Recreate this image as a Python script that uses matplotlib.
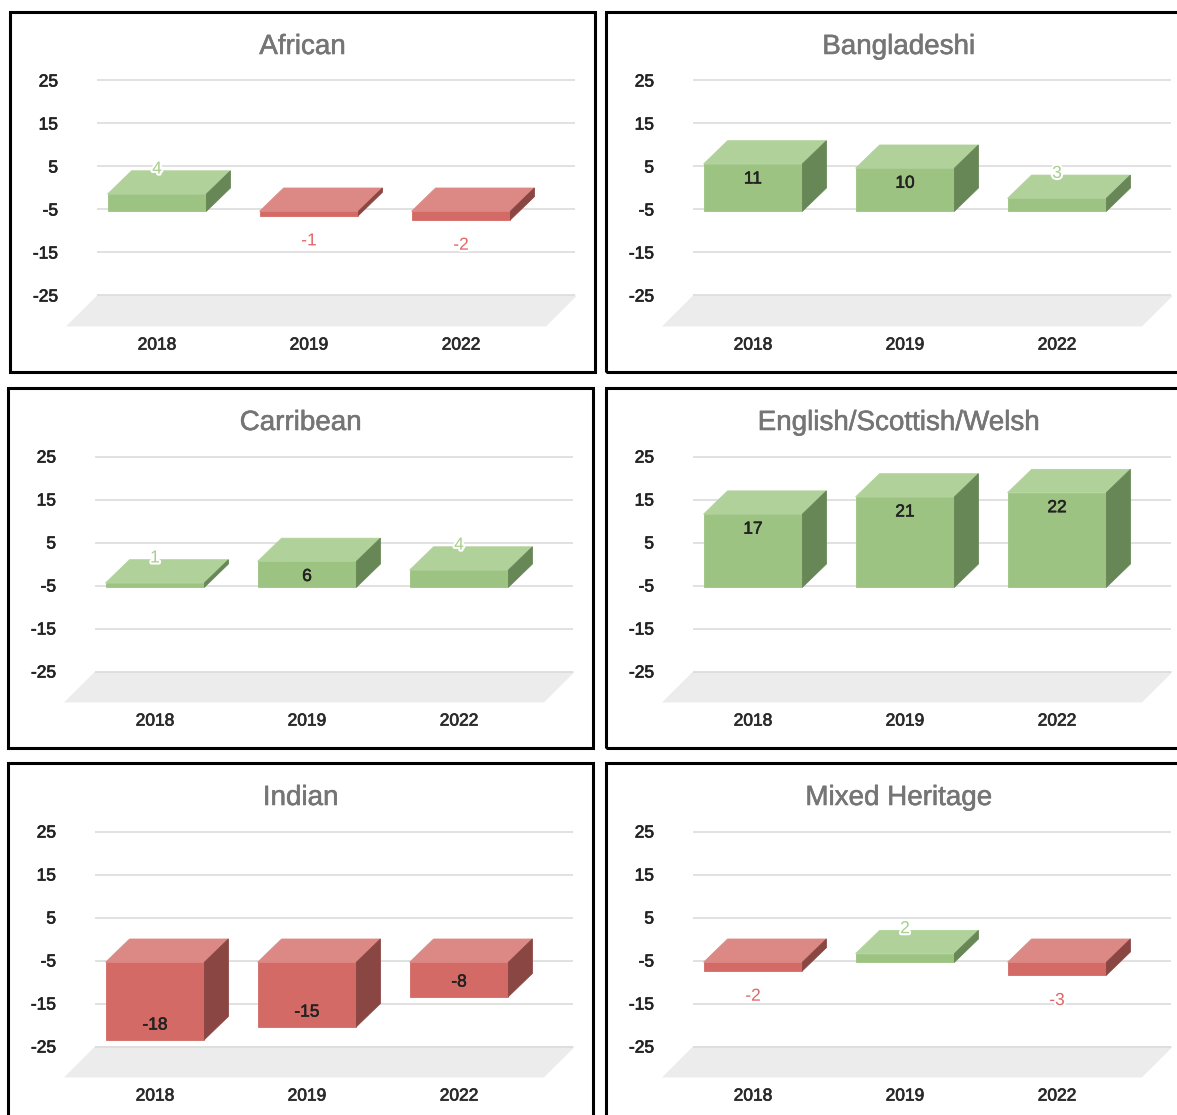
import matplotlib
matplotlib.use("Agg")
import matplotlib.pyplot as plt
from matplotlib.patches import Polygon, Rectangle
import matplotlib.patheffects as pe

plt.rcParams['font.family'] = ['Liberation Sans', 'DejaVu Sans']

# ---- data ----
years = ["2018", "2019", "2022"]
groups = ["African", "Bangladeshi", "Carribean",
          "English/Scottish/Welsh", "Indian", "Mixed Heritage"]
african = [4, -1, -2]
bangladeshi = [11, 10, 3]
carribean = [1, 6, 4]
english_scottish_welsh = [17, 21, 22]
indian = [-18, -15, -8]
mixed_heritage = [-2, 2, -3]
y_ticks = [25, 15, 5, -5, -15, -25]

series = [african, bangladeshi, carribean,
          english_scottish_welsh, indian, mixed_heritage]

# ---- style ----
GREEN = dict(front="#9dc383", top="#b0d29a", side="#688756", label="#a6cf8b")
RED = dict(front="#d36a65", top="#dc8985", side="#8a4642", label="#e06666")
GRID = "#d9d9d9"
FLOOR = "#ececec"
DARK = "#222222"

def heavy(color, w=0.5):
    return [pe.withStroke(linewidth=w, foreground=color)]

W, H = 1177, 1115
fig = plt.figure(figsize=(W / 100, H / 100), dpi=100)

# panel frame origins (left, top) in pixels
frames = [(10, 12), (606, 12), (8, 388), (606, 388), (8, 763), (606, 763)]
FW, FH = 585, 360

# plot-area geometry inside each frame (pixels relative to frame)
AX_L, AX_R, AX_T, AX_B = 87, 565, 55, 320
PX_PER_UNIT = 4.3
Y25_PX = 68.5
CAT0_PX, CAT_STEP = 147, 152

y_top = 25 + (Y25_PX - AX_T) / PX_PER_UNIT
y_bot = 25 - (AX_B - Y25_PX) / PX_PER_UNIT
x_left = (AX_L - CAT0_PX) / CAT_STEP
x_right = (AX_R - CAT0_PX) / CAT_STEP

HALF_W = 0.325      # half width of bar front face (category units)
DX = 0.158          # depth offset, x
DY = 5.4            # depth offset, y
BASE = -5.4         # front baseline on the back-wall scale
FLOOR_DEPTH = 7.2
FLOOR_SHIFT = 0.204

for (fx, fy), title, vals in zip(frames, groups, series):
    # frame border
    fig.add_artist(Rectangle((fx / W, 1 - (fy + FH) / H), FW / W, FH / H,
                             transform=fig.transFigure, fill=False,
                             ec="black", lw=2.2))
    fig.text((fx + FW / 2) / W, 1 - (fy + 35) / H, title,
             ha="center", va="center", fontsize=20, color="#757575",
             path_effects=heavy("#757575", 0.4))

    ax = fig.add_axes([(fx + AX_L) / W, 1 - (fy + AX_B) / H,
                       (AX_R - AX_L) / W, (AX_B - AX_T) / H])
    ax.set_facecolor("none")
    ax.set_xlim(x_left, x_right)
    ax.set_ylim(y_bot, y_top)
    for s in ax.spines.values():
        s.set_visible(False)
    ax.set_yticks(y_ticks)
    ax.set_yticklabels([str(t) for t in y_ticks], fontsize=12.5, color=DARK)
    ax.tick_params(axis="y", length=0, pad=28)
    ax.set_xticks(range(len(years)))
    ax.set_xticklabels(years, fontsize=12.5, color="#2a2a2a")
    ax.tick_params(axis="x", length=0, pad=4)
    for lab in ax.get_yticklabels():
        lab.set_path_effects(heavy(DARK))
    for lab in ax.get_xticklabels():
        lab.set_path_effects(heavy("#2a2a2a"))
    ax.grid(axis="y", color=GRID, lw=1.1)
    ax.set_axisbelow(True)

    # floor
    ax.add_patch(Polygon([(x_left, -25), (x_right + 0.013, -25),
                          (x_right + 0.013 - FLOOR_SHIFT, -25 - FLOOR_DEPTH),
                          (x_left - FLOOR_SHIFT, -25 - FLOOR_DEPTH)],
                         closed=True, fc=FLOOR, ec="none", zorder=0.3,
                         clip_on=False))

    for i, v in enumerate(vals):
        c = GREEN if v >= 0 else RED
        x0, x1 = i - HALF_W, i + HALF_W
        lo, hi = min(BASE, BASE + v), max(BASE, BASE + v)
        kw = dict(closed=True, lw=0.6, zorder=2, clip_on=False)
        ax.add_patch(Polygon([(x0, lo), (x1, lo), (x1, hi), (x0, hi)],
                             fc=c["front"], ec=c["front"], **kw))
        ax.add_patch(Polygon([(x0, hi), (x1, hi), (x1 + DX, hi + DY),
                              (x0 + DX, hi + DY)],
                             fc=c["top"], ec=c["top"], **kw))
        ax.add_patch(Polygon([(x1, lo), (x1 + DX, lo + DY),
                              (x1 + DX, hi + DY), (x1, hi)],
                             fc=c["side"], ec=c["side"], **kw))

        # value label
        if abs(v) >= 5:
            ly = BASE + v - 3.5 if v > 0 else BASE + v + 3.4
            ax.text(i, ly, str(v), ha="center", va="center",
                    fontsize=12.5, color=DARK, zorder=3,
                    path_effects=heavy(DARK, 0.4))
        else:
            ly = BASE + v + 5.8 if v > 0 else BASE + v - 5.9
            ax.text(i, ly, str(v), ha="center", va="center",
                    fontsize=12.5, color=c["label"], zorder=3,
                    path_effects=[pe.withStroke(linewidth=3, foreground="white")])

fig.savefig("out.png", dpi=100, facecolor="white")
